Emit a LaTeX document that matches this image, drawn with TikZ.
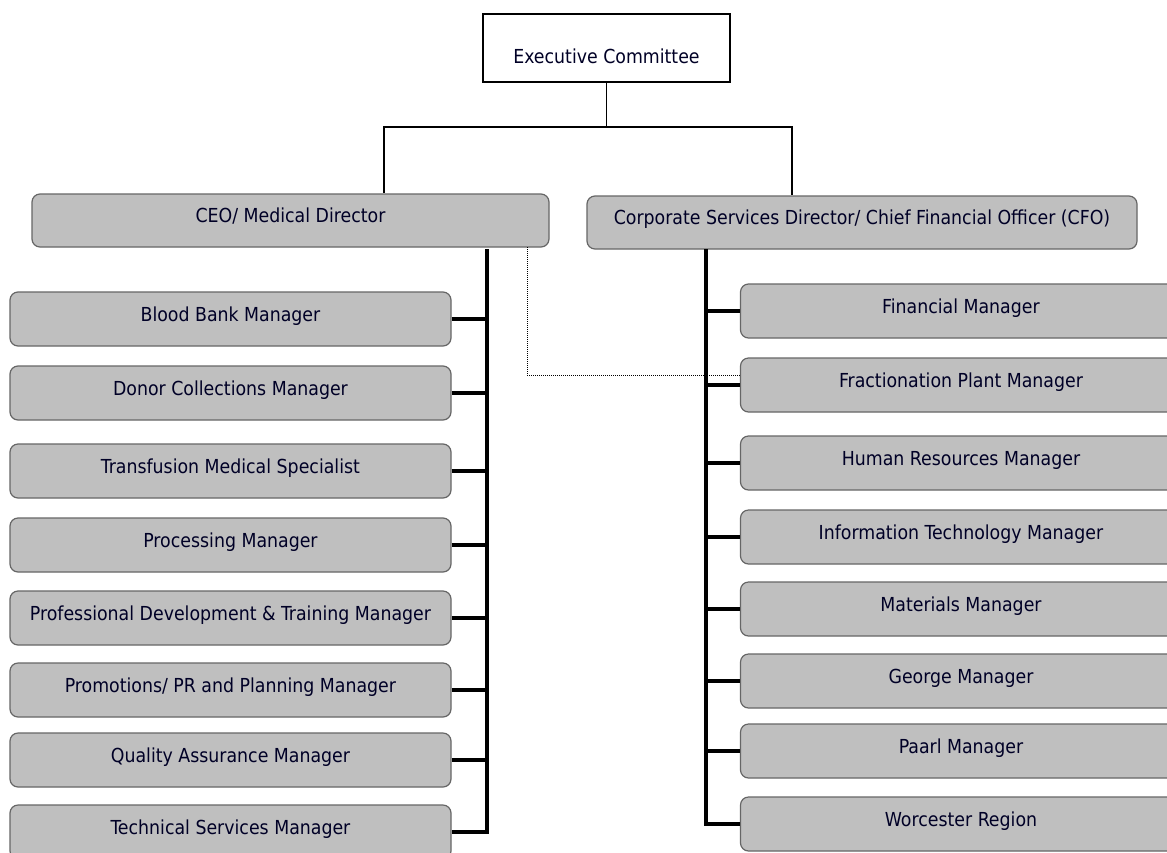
\documentclass[tikz,border=0pt]{standalone}
\usepackage{fontspec}
\setmainfont{DejaVu Sans Condensed}
\usepackage{tikz}

\begin{document}
\begin{tikzpicture}
			[x=1pt,y=-1pt,line cap=butt,
			%Styles
			font=\fontsize{19.3}{23}\selectfont,
			every node/.style={text=black!85!blue,text height=14pt,text depth=10pt},
			top box/.style={draw=black,line width=1.2pt,fill=white,minimum width=247pt,minimum height=68pt,inner sep=0pt,text height=30pt,text depth=0pt},
			head box/.style={draw=black!60,line width=1.2pt,fill=black!25,rounded corners=8pt,minimum height=53pt,inner sep=0pt},
			unit box/.style={draw=black!60,line width=1.2pt,fill=black!25,rounded corners=8pt,minimum width=441pt,minimum height=54pt,inner sep=0pt},
			link/.style={draw=black,line width=1.2pt},
			spine/.style={draw=black,line width=4.5pt},
			staff link/.style={draw=black,densely dotted,line width=1pt}
			]
			\useasboundingbox (0,0) rectangle (1167,852);
			
			%The graphic
			\node[top box] (exec) at (606.5, 48) {Executive Committee};
			\node[head box, minimum width=517pt] (ceo) at (290.5, 220.5) {CEO/ Medical Director};
			\node[head box, minimum width=550pt] (cfo) at (862, 222.5) {Corporate Services Director/ Chief Financial Officer (CFO)};
			
			%Left column
			\node[unit box] (bbm) at (230.5, 319) {Blood Bank Manager};
			\node[unit box] (dcm) at (230.5, 393) {Donor Collections Manager};
			\node[unit box] (tms) at (230.5, 471) {Transfusion Medical Specialist};
			\node[unit box] (prm) at (230.5, 545) {Processing Manager};
			\node[unit box] (pdt) at (230.5, 618) {Professional Development \& Training Manager};
			\node[unit box] (ppm) at (230.5, 690) {Promotions/ PR and Planning Manager};
			\node[unit box] (qam) at (230.5, 760) {Quality Assurance Manager};
			\node[unit box] (tsm) at (230.5, 832) {Technical Services Manager};
			
			%Right column
			\node[unit box] (fim) at (961, 311) {Financial Manager};
			\node[unit box] (fpm) at (961, 385) {Fractionation Plant Manager};
			\node[unit box] (hrm) at (961, 463) {Human Resources Manager};
			\node[unit box] (itm) at (961, 537) {Information Technology Manager};
			\node[unit box] (mam) at (961, 609) {Materials Manager};
			\node[unit box] (gem) at (961, 681) {George Manager};
			\node[unit box] (pam) at (961, 751) {Paarl Manager};
			\node[unit box] (wor) at (961, 824) {Worcester Region};
			
			%Joints
			\coordinate (lj) at (384, 127);
			\coordinate (rj) at (792, 127);
			\coordinate (lspine) at (487, 249);
			\coordinate (rspine) at (706, 249);
			\coordinate (dl) at (527, 247);
			
			\path[link] (exec.south) |- (lj) -- (lj |- ceo.north)
				(exec.south) |- (rj) -- (rj |- cfo.north);
			
			\path[spine] (lspine) |- (tsm.east);
			\foreach \n in {bbm,dcm,tms,prm,pdt,ppm,qam}
				\path[spine] (\n.east) -- (\n.east -| lspine);
			
			\path[spine] (rspine) |- (wor.west);
			\foreach \n in {fim,fpm,hrm,itm,mam,gem,pam}
				\path[spine] (\n.west) -- (\n.west -| rspine);
			
			\path[staff link] (dl) |- ([yshift=10pt]fpm.west);
		\end{tikzpicture}
\end{document}
